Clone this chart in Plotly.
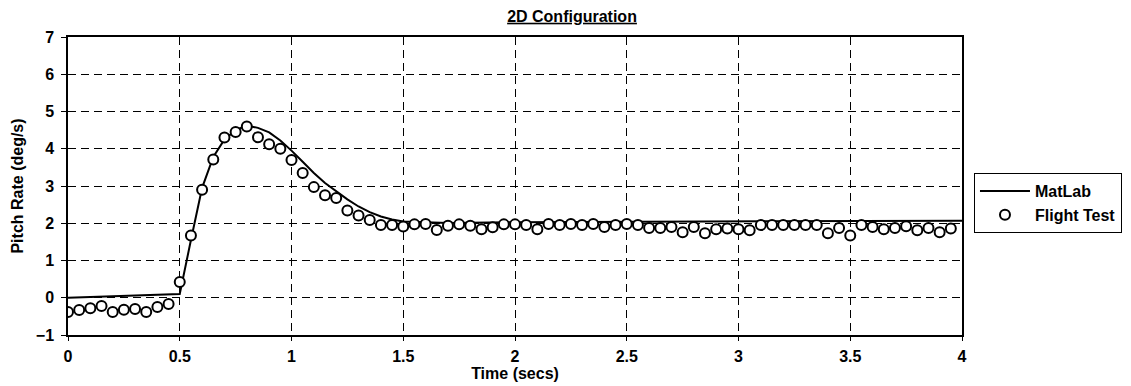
import plotly.graph_objects as go

# Flight test samples (time in s, pitch rate in deg/s)
flight_t = [0.00, 0.05, 0.10, 0.15, 0.20, 0.25, 0.30, 0.35, 0.40, 0.45,
            0.50, 0.55, 0.60, 0.65, 0.70, 0.75, 0.80, 0.85, 0.90, 0.95,
            1.00, 1.05, 1.10, 1.15, 1.20, 1.25, 1.30, 1.35, 1.40, 1.45,
            1.50, 1.55, 1.60, 1.65, 1.70, 1.75, 1.80, 1.85, 1.90, 1.95,
            2.00, 2.05, 2.10, 2.15, 2.20, 2.25, 2.30, 2.35, 2.40, 2.45,
            2.50, 2.55, 2.60, 2.65, 2.70, 2.75, 2.80, 2.85, 2.90, 2.95,
            3.00, 3.05, 3.10, 3.15, 3.20, 3.25, 3.30, 3.35, 3.40, 3.45,
            3.50, 3.55, 3.60, 3.65, 3.70, 3.75, 3.80, 3.85, 3.90, 3.95]
flight_q = [-0.38, -0.33, -0.28, -0.22, -0.38, -0.32, -0.30, -0.38, -0.25, -0.17,
            0.42, 1.67, 2.90, 3.71, 4.30, 4.45, 4.60, 4.31, 4.12, 4.00,
            3.70, 3.35, 2.97, 2.75, 2.68, 2.34, 2.21, 2.09, 1.95, 1.95,
            1.91, 1.97, 1.98, 1.82, 1.93, 1.97, 1.93, 1.84, 1.89, 1.97,
            1.97, 1.95, 1.84, 1.98, 1.95, 1.98, 1.95, 1.98, 1.90, 1.95,
            1.98, 1.95, 1.87, 1.87, 1.90, 1.76, 1.90, 1.73, 1.84, 1.86,
            1.84, 1.81, 1.95, 1.95, 1.95, 1.95, 1.95, 1.95, 1.73, 1.87,
            1.67, 1.95, 1.90, 1.84, 1.87, 1.92, 1.81, 1.87, 1.76, 1.86]

# MatLab simulation curve
matlab_t = [0.0, 0.5, 0.55, 0.6, 0.65, 0.7, 0.75, 0.8, 0.85, 0.9, 0.95, 1.0,
            1.05, 1.1, 1.15, 1.2, 1.25, 1.3, 1.35, 1.4, 1.45, 1.5, 1.6, 1.7,
            2.0, 3.0, 4.0]
matlab_q = [0.0, 0.1, 1.55, 2.95, 3.78, 4.25, 4.5, 4.62, 4.56, 4.44, 4.22, 3.95,
            3.65, 3.35, 3.08, 2.86, 2.64, 2.45, 2.3, 2.18, 2.1, 2.05, 2.02, 2.01,
            2.03, 2.05, 2.07]

x_ticks = [0, 0.5, 1, 1.5, 2, 2.5, 3, 3.5, 4]
x_tick_labels = ["0", "0.5", "1", "1.5", "2", "2.5", "3", "3.5", "4"]
y_ticks = [-1, 0, 1, 2, 3, 4, 5, 6, 7]

FONT = "Liberation Sans, Arial, sans-serif"
BOLD16 = dict(family=FONT, size=16, color="black", weight="bold")

fig = go.Figure()
fig.add_trace(go.Scatter(
    x=matlab_t, y=matlab_q, mode="lines", name="MatLab",
    line=dict(color="black", width=2),
))
fig.add_trace(go.Scatter(
    x=flight_t, y=flight_q, mode="markers", name="Flight Test",
    marker=dict(symbol="circle", size=10, color="white",
                line=dict(color="black", width=2)),
))

fig.update_layout(
    width=1131, height=386,
    margin=dict(l=60, r=177, t=29, b=59, autoexpand=False),
    paper_bgcolor="white", plot_bgcolor="white",
    font=dict(family=FONT, color="black", size=16),
    title=dict(text="<u>2D Configuration</u>", xref="container", x=0.4987,
               xanchor="center", yref="container", y=0.979, yanchor="middle",
               font=BOLD16),
    showlegend=True,
    legend=dict(x=1.0134, xanchor="left", y=0.5436, yanchor="top",
                bordercolor="black", borderwidth=1, bgcolor="white",
                font=BOLD16, itemwidth=50, tracegroupgap=4,
                entrywidth=100, entrywidthmode="pixels"),
)

fig.update_xaxes(
    range=[0, 4], tickvals=x_ticks, ticktext=x_tick_labels,
    showgrid=True, gridcolor="black", gridwidth=1, griddash="8px,5px",
    showline=True, linecolor="black", linewidth=1.5, mirror=True,
    ticks="outside", ticklen=4, tickcolor="black",
    zeroline=False, automargin=False,
    tickfont=BOLD16, ticklabelstandoff=2,
    title=dict(text="Time (secs)", standoff=0, font=BOLD16),
)
fig.update_yaxes(
    range=[-1, 7], tickvals=y_ticks,
    showgrid=True, gridcolor="black", gridwidth=1, griddash="8px,5px",
    showline=True, linecolor="black", linewidth=1.5, mirror=True,
    ticks="outside", ticklen=5, tickcolor="black",
    zeroline=False, automargin=False,
    tickfont=BOLD16, ticklabelstandoff=4,
    title=dict(text="Pitch Rate (deg/s)", standoff=8, font=BOLD16),
)

fig.write_html("out.html")
